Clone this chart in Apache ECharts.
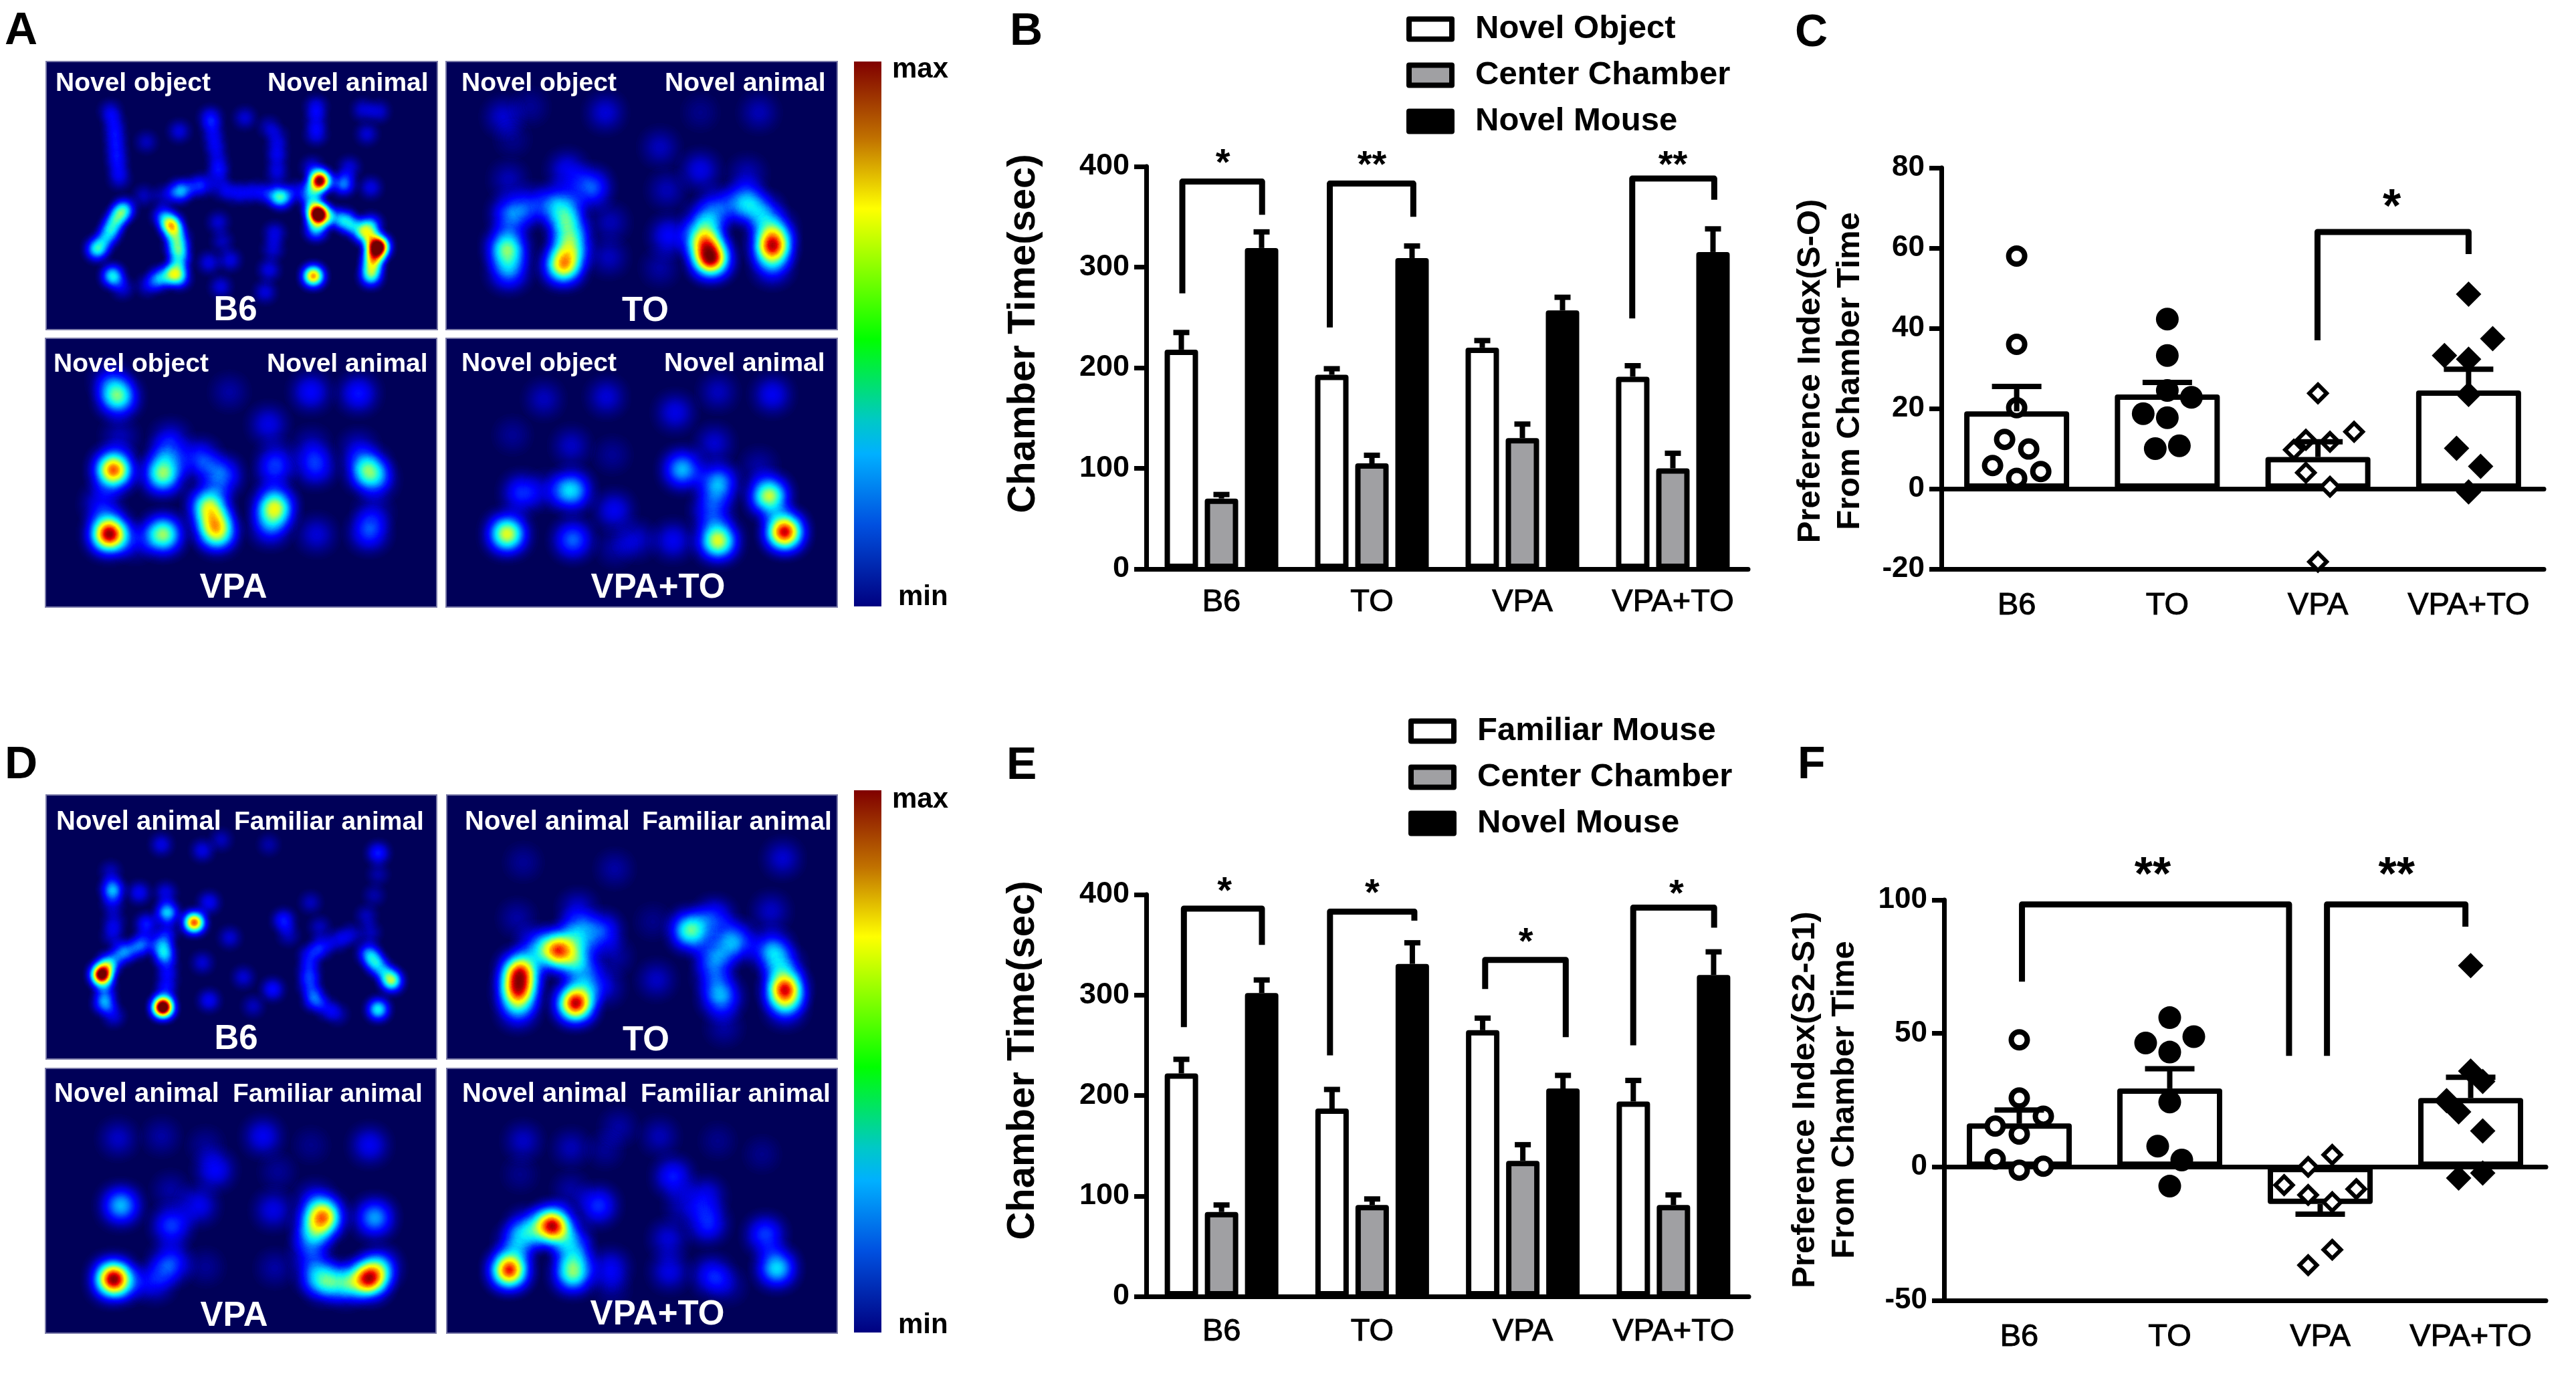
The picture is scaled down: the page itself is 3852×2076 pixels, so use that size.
<!DOCTYPE html>
<html>
<head>
<meta charset="utf-8">
<style>
  html, body { margin: 0; padding: 0; background: #fff; }
  #main { width: 3852px; height: 2076px; }
</style>
</head>
<body>
<div id="main"></div>
<script src="https://cdn.jsdelivr.net/npm/echarts@6/dist/echarts.min.js"></script>
<script>
const FONT = "'Liberation Sans', Arial, sans-serif";

const groups = ["B6", "TO", "VPA", "VPA+TO"];

// panel B
const bNovelObject = [218, 193, 220, 191];
const bCenter = [70, 105, 130, 100];
const bNovelMouse = [319, 309, 257, 315];
const bNovelObjectErr = [235, 199, 227, 202];
const bCenterErr = [74, 113, 144, 115];
const bNovelMouseErr = [335, 321, 270, 338];
const bBrackets = [
  [[0.24, 274], [0.24, 385], [0.77, 385], [0.77, 352]],
  [[1.22, 240], [1.22, 383], [1.775, 383], [1.775, 350]],
  [[3.23, 249], [3.23, 388], [3.775, 388], [3.775, 367]],
];
const bStars = [[0.51, 410, "*"], [1.5, 408, "**"], [3.5, 408, "**"]];

// panel E
const eFamiliarMouse = [222, 187, 265, 194];
const eCenter = [84, 91, 135, 91];
const eNovelMouse = [302, 331, 207, 320];
const eFamiliarMouseErr = [236, 206, 277, 215];
const eCenterErr = [91, 97, 151, 101];
const eNovelMouseErr = [315, 352, 220, 343];
const eBrackets = [
  [[0.25, 268], [0.25, 386], [0.768, 386], [0.768, 350]],
  [[1.22, 240], [1.22, 383], [1.78, 383], [1.78, 374]],
  [[2.25, 306], [2.25, 335], [2.785, 335], [2.785, 258]],
  [[3.233, 250], [3.233, 387], [3.77, 387], [3.77, 367]],
];
const eStars = [[0.52, 410, "*"], [1.5, 408, "*"], [2.52, 359, "*"], [3.52, 407, "*"]];

// panel C
const cMeans = [19.3, 23.5, 7.9, 24.5];
const cErr = [25.5, 26.5, 11.7, 29.8];
const cPointsB6 = [[0.5, 58], [0.5, 36], [0.5, 20.2], [0.42, 12.3], [0.58, 9.9], [0.34, 5.8], [0.66, 4.3], [0.5, 2.6]];
const cPointsTO = [[1.5, 42.3], [1.5, 33.2], [1.5, 24.5], [1.66, 22.8], [1.34, 18.7], [1.5, 17.7], [1.42, 10], [1.58, 10.7]];
const cPointsVPA = [[2.5, 23.8], [2.74, 14.2], [2.42, 12.2], [2.58, 11.7], [2.34, 9.7], [2.42, 4], [2.58, 0.5], [2.5, -18.2]];
const cPointsVPATO = [[3.5, 48.5], [3.66, 37.4], [3.34, 33.2], [3.5, 32.3], [3.5, 23.5], [3.42, 10.1], [3.58, 5.6], [3.5, -0.8]];
const cBrackets = [[[2.497, 37], [2.497, 64], [3.5, 64], [3.5, 58.5]]];
const cStars = [[2.99, 72, "*"]];

// panel F
const fMeans = [16.3, 29.4, -13.9, 25.8];
const fErr = [21.3, 36.8, -17.7, 33.6];
const fPointsB6 = [[0.5, 47.6], [0.5, 25.8], [0.66, 19], [0.34, 15.3], [0.5, 12.3], [0.34, 2.9], [0.66, 0.3], [0.5, -1.2]];
const fPointsTO = [[1.5, 55.9], [1.66, 48.8], [1.34, 46.4], [1.5, 43], [1.5, 24.3], [1.42, 7.8], [1.58, 2.6], [1.5, -7.2]];
const fPointsVPA = [[2.58, 4.5], [2.42, 0], [2.26, -6.8], [2.74, -8.3], [2.42, -10.5], [2.58, -13.2], [2.58, -31], [2.42, -36.8]];
const fPointsVPATO = [[3.5, 75.4], [3.5, 35.9], [3.58, 32], [3.34, 24.8], [3.42, 20.6], [3.58, 13.5], [3.58, -2.3], [3.42, -4.2]];
const fBrackets = [
  [[0.518, 69.4], [0.518, 98.3], [2.293, 98.3], [2.293, 41.6]],
  [[2.545, 41.6], [2.545, 98.3], [3.465, 98.3], [3.465, 90]],
];
const fStars = [[1.387, 112, "**"], [3.008, 112, "**"]];

// heat maps: [x %, y % from top, intensity]
const heatAB6 = [
  [16.4, 18.6, .13], [17.6, 27, .13], [18, 35, .13], [18.7, 43.5, .13], [34, 26, .13], [25.6, 30, .1], [42, 21, .18], [43, 30, .12],
  [44, 38.5, .12], [50.8, 21, .12], [57, 24.4, .1], [59, 32.7, .12], [59, 42, .12], [40, 46, .18], [48, 49, .12], [54, 48.5, .12],
  [34, 48.5, .33], [60, 50.6, .45], [25, 50, .1], [69, 17, .15], [69, 27, .15], [81, 18, .12], [85, 18.6, .12], [82, 27, .12],
  [68, 39.5, .14], [77.5, 39.5, .13], [83, 47, .14], [76, 45.6, .3], [70, 44.4, .9], [68, 48.5, .3], [69.5, 57, 1.05], [69, 62.6, .35],
  [76, 59, .3], [81, 63.5, .4], [83, 61, .3], [85, 69, .9], [83.6, 73.5, .4], [83, 80, .4], [68.3, 80, .7], [13, 70, .42],
  [16.4, 63.5, .24], [18, 58.5, .22], [20, 55, .3], [32, 61, .55], [30, 57.7, .25], [34, 71, .3], [34, 66, .22], [32.4, 79, .42],
  [29, 81, .33], [34, 80.6, .3], [17, 80, .42], [19.5, 84.4, .13], [26, 83.5, .13], [41.6, 75, .14], [47, 74, .14], [44.6, 84, .13],
  [56, 86, .13], [57, 77.7, .14], [58.4, 64, .14], [44, 60, .12],
  [15, 66.5, .22], [17, 61, .2], [19, 56.7, .2], [34, 75, .25], [33, 68.5, .22], [32.5, 63.5, .22], [68, 53, .25], [72.5, 58, .25],
  [78, 61, .25], [83, 66, .3], [84, 71, .3], [83.3, 76.5, .3], [17.3, 22.8, .12], [17.8, 31, .12], [18.3, 39, .12], [42.5, 25.5, .12],
  [43.5, 34, .1], [44, 42, .12], [59, 28, .1], [59, 37, .1], [69, 22, .12], [58, 70, .12], [45, 67, .1], [30, 50, .1],
  [37, 47, .14], [45, 47.5, .12], [51, 49, .12], [57, 49.5, .15], [64, 48.5, .14],
];
const heatATO = [
  [14.6, 20.6, .15], [21.5, 17, .08], [40.7, 19, .16], [16, 44, .12], [31, 40.5, .2], [37, 47, .35], [17, 29, .07], [54.7, 32, .13],
  [65, 40.5, .18], [65, 19, .07], [80, 19, .12], [77, 42, .12], [56.4, 48, .12], [16.7, 57, .38], [22.4, 53.7, .25], [29, 53, .35],
  [30.7, 58.7, .42], [31.6, 65, .36], [15.6, 69.5, .62], [16, 78, .38], [30, 76, .82], [32, 70, .38], [66, 67, .7], [67.7, 73.6, 1.05],
  [66, 60, .33], [69.5, 54.6, .28], [76.5, 52.5, .45], [81, 57, .35], [83.4, 68.7, .95], [84, 63, .33], [83.4, 76, .3], [57, 65, .22],
  [41.6, 73, .13], [54.7, 77, .1], [42, 60, .12],
];
const heatAVPA = [
  [18.5, 21.8, .6], [16.6, 16, .2], [19, 36.7, .12], [32, 37.6, .18], [31, 44, .25], [17.4, 49, .95], [30, 50.8, .62], [39.5, 45, .3],
  [45, 51, .36], [41.8, 62.4, .68], [43.4, 70, .58], [44, 73, .4], [14.4, 61.6, .22], [16.3, 72.8, 1.1], [30, 73, .68], [22.7, 75.7, .15],
  [58.6, 62.8, .72], [57.5, 70, .3], [57, 32, .18], [59, 45.8, .22], [58.2, 50.8, .14], [67.8, 20, .22], [80, 20.6, .24], [47, 20, .1],
  [69, 47.5, .28], [68, 40, .12], [82.3, 49, .55], [80, 41, .15], [84.6, 52.5, .25], [83.8, 65, .14], [82.7, 72, .3], [69.3, 73, .16],
];
const heatAVPATO = [
  [25, 22.6, .13], [41, 21.8, .16], [17, 36, .08], [32, 40, .14], [42.5, 43.4, .08], [19.4, 57.5, .28], [32, 56.6, .5], [26, 56.6, .12],
  [15.6, 72.8, .75], [32.4, 75, .35], [43, 64, .2], [48.6, 75, .15], [58, 75.3, .2], [58.6, 27.6, .18], [69.5, 20, .13], [83.4, 21, .2],
  [68.6, 39, .15], [60.4, 48.8, .45], [69.5, 54, .45], [68, 64, .3], [69.5, 75.3, .75], [82.6, 58.7, .72], [86.5, 72, 1.05], [80, 47.5, .1],
  [43.3, 78, .1],
];
const heatDB6 = [
  [29.5, 18.8, .14], [40, 21, .14], [44.8, 17, .1], [57, 18.8, .08], [85, 22, .2], [16.5, 29, .1], [17, 35.7, .35], [23.8, 37, .16],
  [30.6, 37, .14], [31, 44.5, .38], [25.7, 49, .2], [37.9, 48.3, .75], [41.7, 40.7, .16], [17.3, 48, .12], [25, 56, .2], [29.5, 56, .22],
  [30.2, 60, .35], [19.6, 59.7, .3], [16, 64, .4], [14.2, 68, .95], [15, 78.7, .33], [29.9, 80.4, 1.05], [31, 70, .14], [17.3, 83.7, .13],
  [40, 63.5, .12], [41.7, 77.8, .16], [50.5, 69, .12], [58, 73.6, .18], [53, 80, .1], [60.8, 47.5, .2], [67.7, 40.7, .1], [82, 45.8, .1],
  [70.4, 57.6, .2], [74.6, 55, .14], [67.3, 66.9, .2], [68.8, 77.4, .28], [82.6, 60, .28], [85, 64.8, .2], [88.5, 70.4, .5], [85, 81.2, .42],
  [74.6, 83, .1],
  [17, 41, .14], [17, 53, .12], [23, 58, .18], [31, 52, .14], [31, 65, .14], [30.5, 75, .15], [15, 73, .2], [67.5, 61, .18],
  [67.5, 72, .2], [72, 81, .14], [78, 53, .12], [84, 63, .22], [87, 67.5, .2], [83, 52, .1], [85, 30, .08], [84, 38, .08],
  [70, 50, .1], [62, 53, .1], [47, 54, .12],
];
const heatDTO = [
  [19.6, 25.5, .08], [43, 28, .1], [86, 24, .15], [18, 46.6, .1], [33.6, 43.3, .16], [33.6, 52.5, .4], [39.7, 51.7, .3], [28.4, 58.9, .9],
  [23, 57.6, .3], [33.6, 62.6, .45], [18.8, 66.9, .9], [18.3, 74, .85], [18.3, 81, .35], [33, 79, 1.05], [35.8, 71, .28], [40.6, 72.8, .14],
  [53.7, 70, .14], [43, 61, .1], [52.8, 48, .07], [62.4, 51.3, .62], [68.5, 46.6, .28], [73.7, 55.5, .42], [83, 44, .14], [68.5, 61, .33],
  [70.2, 76.6, .42], [68.5, 68.5, .22], [83.3, 59, .42], [86, 65, .3], [86.6, 73.6, .95], [86.8, 80, .33], [71, 88, .1],
];
const heatDVPA = [
  [18.6, 26.5, .14], [29.7, 25.7, .1], [55.7, 25.7, .2], [43.4, 38.3, .22], [41, 29, .08], [83, 29, .2], [68, 29, .07], [59.5, 39, .08],
  [32, 46, .1], [19.3, 51.8, .45], [39.2, 51.8, .2], [58.3, 53.5, .18], [32.3, 59.4, .3], [32, 73.7, .32], [28, 80.5, .22], [17.4, 79.6, 1.1],
  [22, 81.3, .12], [41, 75, .08], [58.7, 75.4, .1], [71.3, 56, .8], [68.7, 61, .42], [69, 50, .2], [84.3, 56.4, .42], [67.9, 68.7, .25],
  [71.7, 80.5, .45], [77, 81.3, .45], [82.8, 79.6, .95], [85.5, 75.4, .4], [69, 78, .25],
];
const heatDVPATO = [
  [19.6, 27.4, .14], [31.8, 30, .12], [44, 22.3, .1], [40.6, 30.7, .08], [54.5, 25.7, .12], [58, 40.9, .25], [69.4, 27.4, .07], [80.7, 32.4, .07],
  [18.8, 40, .07], [38.8, 51.8, .28], [66.3, 48.4, .2], [60.6, 51.8, .13], [66.8, 58.5, .27], [81.6, 62.8, .3], [56.7, 64.4, .16], [31.8, 46, .1],
  [27, 59.4, 1.05], [20.5, 61, .38], [17.9, 66, .3], [31.8, 65.3, .3], [16, 76.2, 1], [32.3, 77.5, .6], [32.7, 71, .25], [41.9, 75.4, .2],
  [57, 76.7, .18], [68, 78.3, .25], [84.5, 75.4, .5], [72, 82, .1], [42.3, 83, .08],
];

echarts.registerMap("arena", {
  type: "FeatureCollection",
  features: [{
    type: "Feature",
    properties: { name: "arena" },
    geometry: { type: "Polygon", coordinates: [[[0, 0], [100, 0], [100, 100], [0, 100], [0, 0]]] },
  }],
});

// left, top, width, height, points, point size, blur size
const heatPanels = [
  [69, 92, 585, 401, heatAB6, 12, 18],
  [667, 92, 585, 401, heatATO, 18, 32],
  [68, 506, 585, 402, heatAVPA, 18, 32],
  [667, 506, 585, 402, heatAVPATO, 18, 32],
  [69, 1189, 584, 395, heatDB6, 12, 18],
  [668, 1189, 584, 395, heatDTO, 18, 32],
  [68, 1598, 584, 396, heatDVPA, 18, 32],
  [668, 1598, 584, 396, heatDVPATO, 18, 32],
];

const chart = echarts.init(document.getElementById("main"));

const geo = [];
const series = [];
const heatIndices = [];
heatPanels.forEach((p, i) => {
  geo.push({
    map: "arena",
    left: p[0], top: p[1], width: p[2], height: p[3],
    silent: true,
    roam: false,
    label: { show: false },
    itemStyle: { areaColor: "#000058", borderColor: "#7a7aa8", borderWidth: 2 },
  });
  heatIndices.push(series.length);
  series.push({
    type: "heatmap",
    coordinateSystem: "geo",
    geoIndex: i,
    pointSize: p[5],
    blurSize: p[6],
    minOpacity: 1,
    maxOpacity: 1,
    data: p[4].map((d) => [d[0], 100 - d[1], d[2]]),
  });
});

// one grid per bar panel, each with a hidden value x axis for offset marks
const grids = [
  { left: 1714, top: 249, width: 900, height: 602 },
  { left: 2903, top: 251, width: 901, height: 600 },
  { left: 1714, top: 1338, width: 901, height: 601 },
  { left: 2907, top: 1346, width: 900, height: 599 },
];
const yRanges = [[0, 400, 100], [-20, 80, 20], [0, 400, 100], [-50, 100, 50]];
const xLabelMargins = [27, 32, 30, 32];
const yLabelSizes = [45, 44, 45, 44];
const starSizes = [56, 70, 56, 70];

const AXIS_W = 7;
const xAxes = [];
const yAxes = [];
grids.forEach((g, i) => {
  xAxes.push({
    type: "category",
    gridIndex: i,
    data: groups,
    axisLine: { onZero: false, lineStyle: { color: "#000", width: AXIS_W } },
    axisTick: { alignWithLabel: true, length: 18, lineStyle: { color: "#000", width: AXIS_W } },
    axisLabel: {
      color: "#000", fontSize: 47, fontFamily: FONT, margin: xLabelMargins[i], interval: 0,
      textBorderColor: "#000", textBorderWidth: 1,
    },
    splitLine: { show: false },
  });
  const hasZeroLine = yRanges[i][0] < 0;
  xAxes.push({
    type: "value",
    gridIndex: i,
    min: 0,
    max: 4,
    show: hasZeroLine,
    axisLine: { show: hasZeroLine, onZero: true, lineStyle: { color: "#000", width: AXIS_W } },
    axisTick: { show: false },
    axisLabel: { show: false },
    splitLine: { show: false },
  });
  yAxes.push({
    type: "value",
    gridIndex: i,
    min: yRanges[i][0],
    max: yRanges[i][1],
    interval: yRanges[i][2],
    axisLine: { show: true, onZero: false, lineStyle: { color: "#000", width: AXIS_W } },
    axisTick: { show: true, length: 18, lineStyle: { color: "#000", width: AXIS_W } },
    axisLabel: { color: "#000", fontSize: yLabelSizes[i], fontWeight: "bold", fontFamily: FONT, margin: 25 },
    splitLine: { show: false },
  });
});

const BAR_BORDER = 8;

function addBars(g, name, values, color, barWidth, barGap) {
  series.push({
    type: "bar",
    name: name,
    xAxisIndex: g * 2,
    yAxisIndex: g,
    data: values,
    barWidth: barWidth,
    barGap: barGap,
    itemStyle: { color: color, borderColor: "#000", borderWidth: BAR_BORDER, borderJoin: "round" },
  });
}

// error bars, x in category units on the hidden axis
function addErrors(g, rows, capHalf) {
  series.push({
    type: "custom",
    xAxisIndex: g * 2 + 1,
    yAxisIndex: g,
    clip: false,
    z: 4,
    data: rows,
    encode: { x: 0, y: [1, 2] },
    renderItem: (params, api) => {
      const a = api.coord([api.value(0), api.value(1)]);
      const b = api.coord([api.value(0), api.value(2)]);
      const style = { stroke: "#000", lineWidth: 8, fill: null };
      return {
        type: "group",
        children: [
          { type: "line", shape: { x1: a[0], y1: a[1], x2: b[0], y2: b[1] }, style: style },
          { type: "line", shape: { x1: b[0] - capHalf, y1: b[1], x2: b[0] + capHalf, y2: b[1] }, style: style },
        ],
      };
    },
  });
}

function addBrackets(g, brackets) {
  brackets.forEach((b) => {
    series.push({
      type: "line",
      xAxisIndex: g * 2 + 1,
      yAxisIndex: g,
      data: b,
      showSymbol: false,
      clip: false,
      z: 5,
      lineStyle: { color: "#000", width: 9, join: "round" },
    });
  });
}

function addStars(g, stars) {
  series.push({
    type: "custom",
    xAxisIndex: g * 2 + 1,
    yAxisIndex: g,
    clip: false,
    z: 5,
    data: stars.map((s) => [s[0], s[1]]),
    encode: { x: 0, y: 1 },
    renderItem: (params, api) => {
      const p = api.coord([api.value(0), api.value(1)]);
      return {
        type: "text",
        x: p[0],
        y: p[1] + starSizes[g] * 0.2,
        style: {
          text: stars[params.dataIndex][2],
          fontSize: starSizes[g], fontWeight: "bold", fontFamily: FONT,
          fill: "#000", align: "center", verticalAlign: "middle",
        },
      };
    },
  });
}

function addPoints(g, points, symbol, size, color, border) {
  series.push({
    type: "scatter",
    xAxisIndex: g * 2 + 1,
    yAxisIndex: g,
    data: points,
    symbol: symbol,
    symbolSize: size,
    clip: false,
    z: 3,
    itemStyle: { color: color, borderColor: "#000", borderWidth: border, opacity: 1 },
  });
}

const BAR_STEP = 60 / 225; // group bar spacing in category units

function barPanel(g, names, values, errs, brackets, stars) {
  const colors = ["#fff", "#a0a0a3", "#000"];
  names.forEach((n, s) => addBars(g, n, values[s], colors[s], 50, "20%"));
  names.forEach((n, s) => {
    addErrors(g, errs[s].map((e, i) => [i + 0.5 + (s - 1) * BAR_STEP, values[s][i], e]), 12);
  });
  addBrackets(g, brackets);
  addStars(g, stars);
}

function prefPanel(g, means, errs, pts, brackets, stars) {
  addBars(g, "Mean", means, "#fff", 157, "0%");
  addPoints(g, pts[0], "circle", 24, "#fff", 8);
  addPoints(g, pts[1], "circle", 34, "#000", 0);
  addPoints(g, pts[2], "diamond", 26, "#fff", 6);
  addPoints(g, pts[3], "diamond", 38, "#000", 0);
  addErrors(g, errs.map((e, i) => [i + 0.5, means[i], e]), 37);
  addBrackets(g, brackets);
  addStars(g, stars);
}

barPanel(0, ["Novel Object", "Center Chamber", "Novel Mouse"],
  [bNovelObject, bCenter, bNovelMouse], [bNovelObjectErr, bCenterErr, bNovelMouseErr], bBrackets, bStars);
prefPanel(1, cMeans, cErr, [cPointsB6, cPointsTO, cPointsVPA, cPointsVPATO], cBrackets, cStars);
barPanel(2, ["Familiar Mouse", "Center Chamber", "Novel Mouse"],
  [eFamiliarMouse, eCenter, eNovelMouse], [eFamiliarMouseErr, eCenterErr, eNovelMouseErr], eBrackets, eStars);
prefPanel(3, fMeans, fErr, [fPointsB6, fPointsTO, fPointsVPA, fPointsVPATO], fBrackets, fStars);

function legendAt(left, top, names) {
  return {
    orient: "vertical",
    left: left,
    top: top,
    padding: 0,
    icon: "rect",
    itemWidth: 64,
    itemHeight: 30,
    itemGap: 20,
    selectedMode: false,
    data: names,
    itemStyle: { borderColor: "#000", borderWidth: 8 },
    textStyle: { fontSize: 49, fontWeight: "bold", fontFamily: FONT, color: "#000", padding: [0, 0, 0, 30] },
  };
}

function text(x, y, str, size, color, align, rotated) {
  return {
    type: "text",
    x: x,
    y: y,
    z: 100,
    silent: true,
    rotation: rotated ? Math.PI / 2 : 0,
    style: {
      text: str, fontSize: size, fontWeight: "bold", fontFamily: FONT, fill: color,
      align: align || "center", verticalAlign: "middle", lineHeight: rotated && str.indexOf("\n") > 0 ? 59 : undefined,
    },
  };
}

function colorBar(top, height) {
  return {
    type: "rect",
    z: 100,
    silent: true,
    shape: { x: 1277, y: top, width: 41, height: height },
    style: {
      fill: new echarts.graphic.LinearGradient(0, 0, 0, 1, [
        { offset: 0, color: "#800000" },
        { offset: 0.14, color: "#c07000" },
        { offset: 0.27, color: "#ffff00" },
        { offset: 0.51, color: "#00ff00" },
        { offset: 0.66, color: "#00c8c8" },
        { offset: 0.72, color: "#00b0ff" },
        { offset: 0.85, color: "#0050e0" },
        { offset: 1, color: "#000080" },
      ]),
    },
  };
}

// text on the heat map panels: [x, y, text, size, align]
const heatLabels = [
  [83, 125, "Novel object", 39, "left"], [400, 125, "Novel animal", 39, "left"], [352, 465, "B6", 51],
  [690, 125, "Novel object", 39, "left"], [994, 125, "Novel animal", 39, "left"], [965, 466, "TO", 51],
  [80, 545, "Novel object", 39, "left"], [399, 545, "Novel animal", 39, "left"], [349, 880, "VPA", 51],
  [690, 544, "Novel object", 39, "left"], [993, 544, "Novel animal", 39, "left"], [984, 880, "VPA+TO", 51],
  [84, 1230, "Novel animal", 40, "left"], [350, 1230, "Familiar animal", 39, "left"], [353, 1555, "B6", 51],
  [695, 1230, "Novel animal", 40, "left"], [960, 1230, "Familiar animal", 39, "left"], [966, 1557, "TO", 51],
  [81, 1637, "Novel animal", 40, "left"], [348, 1637, "Familiar animal", 39, "left"], [350, 1969, "VPA", 51],
  [691, 1637, "Novel animal", 40, "left"], [958, 1637, "Familiar animal", 39, "left"], [983, 1967, "VPA+TO", 51],
];

const graphicElements = [
  colorBar(92, 815),
  colorBar(1182, 811),
  text(7, 47, "A", 68, "#000", "left"),
  text(1510, 48, "B", 68, "#000", "left"),
  text(2684, 50, "C", 68, "#000", "left"),
  text(7, 1145, "D", 68, "#000", "left"),
  text(1505, 1146, "E", 68, "#000", "left"),
  text(2688, 1145, "F", 68, "#000", "left"),
  text(1334, 104, "max", 42, "#000", "left"),
  text(1343, 893, "min", 42, "#000", "left"),
  text(1334, 1196, "max", 42, "#000", "left"),
  text(1343, 1982, "min", 42, "#000", "left"),
  text(1531, 499, "Chamber Time(sec)", 58, "#000", "center", true),
  text(1530, 1586, "Chamber Time(sec)", 58, "#000", "center", true),
  text(2737, 555, "Preference Index(S-O)\nFrom Chamber Time", 49, "#000", "center", true),
  text(2729, 1645, "Preference Index(S2-S1)\nFrom Chamber Time", 49, "#000", "center", true),
].concat(heatLabels.map((l) => text(l[0], l[1], l[2], l[3], "#fff", l[4])));

const option = {
  backgroundColor: "#fff",
  animation: false,
  geo: geo,
  grid: grids,
  xAxis: xAxes,
  yAxis: yAxes,
  legend: [
    legendAt(2103, 19, ["Novel Object", "Center Chamber", "Novel Mouse"]),
    legendAt(2106, 1069, ["Familiar Mouse", "Center Chamber", "Novel Mouse"]),
  ],
  visualMap: [{
    type: "continuous",
    show: false,
    min: 0,
    max: 1.1,
    seriesIndex: heatIndices,
    inRange: {
      color: [
        "#000058", "#000090", "#0000d0", "#0000ff", "#0030ff", "#0070ff", "#00b0ff", "#00e8ff",
        "#30ffc8", "#80ff80", "#d0ff30", "#ffff00", "#ffb000", "#ff6000", "#f00000", "#a00000",
        "#700000", "#700000", "#700000", "#700000", "#700000", "#700000", "#700000", "#700000",
        "#700000", "#700000", "#700000", "#700000", "#700000", "#700000", "#700000", "#700000", "#700000",
      ],
    },
  }],
  series: series,
  graphic: graphicElements,
};

chart.setOption(option);

window.addEventListener("resize", () => {
  chart.resize();
});
</script>
</body>
</html>
